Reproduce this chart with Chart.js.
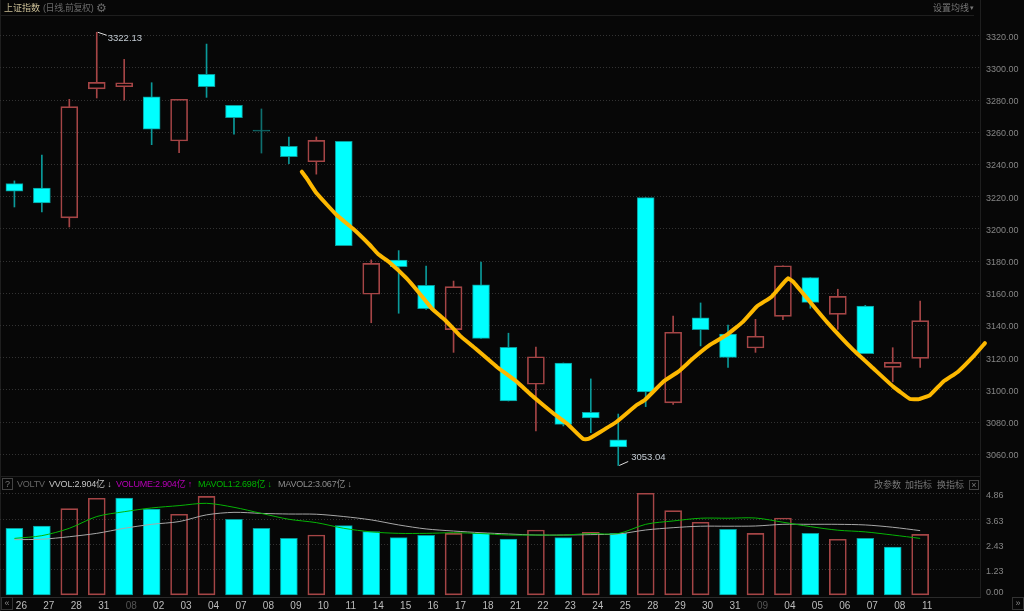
<!DOCTYPE html>
<html><head><meta charset="utf-8">
<script src="https://cdn.jsdelivr.net/npm/chart.js@4/dist/chart.umd.js"></script>
<style>
html,body{margin:0;padding:0;background:#070707;overflow:hidden;width:1024px;height:611px}
canvas{position:absolute;left:0;display:block}
.t{position:absolute;white-space:nowrap;font-family:"Liberation Sans","Noto Sans CJK SC",sans-serif;font-size:9px;line-height:12px}
.m{letter-spacing:-0.2px}
.l{position:absolute;background:#1e1e1e}
</style></head><body>
<div class="l" style="left:0;top:15px;width:974px;height:1px"></div>
<div class="l" style="left:0;top:476px;width:980px;height:1px"></div>
<div class="l" style="left:980px;top:0;width:1px;height:597px"></div>
<div class="l" style="left:0;top:0;width:1px;height:611px"></div>
<canvas id="priceChart" width="1024" height="476" style="top:0"></canvas>
<canvas id="volChart" width="1024" height="135" style="top:476px"></canvas>
<div class="t" style="left:4px;top:2px;color:#c9bd95">上证指数</div>
<div class="t" style="left:43px;top:2px;letter-spacing:-0.4px;color:#6a6a6a">(日线,前复权)</div>
<div class="t" style="left:96px;top:2px;font-size:12px;color:#6a6a6a;font-family:'DejaVu Sans'">⚙</div>
<div class="t" style="left:933px;top:2px;color:#777">设置均线</div>
<div class="t" style="left:970px;top:2px;font-size:7px;color:#777">▾</div>
<div class="t" style="left:2px;top:478px;width:9px;height:10px;border:1px solid #444;text-align:center;line-height:10px;color:#777">?</div>
<div class="t m" style="left:17px;top:478px;color:#666">VOLTV</div>
<div class="t m" style="left:49px;top:478px;color:#c4c4c4">VVOL:2.904亿 ↓</div>
<div class="t m" style="left:116px;top:478px;color:#b800b8">VOLUME:2.904亿 ↑</div>
<div class="t m" style="left:198px;top:478px;color:#00b400">MAVOL1:2.698亿 ↓</div>
<div class="t m" style="left:278px;top:478px;color:#8e8e8e">MAVOL2:3.067亿 ↓</div>
<div class="t" style="left:874px;top:479px;color:#777">改参数</div>
<div class="t" style="left:905px;top:479px;color:#777">加指标</div>
<div class="t" style="left:937px;top:479px;color:#777">换指标</div>
<div class="t" style="left:969px;top:480px;width:8px;height:8px;border:1px solid #444;text-align:center;line-height:8px;color:#777">×</div>
<div class="t" style="left:986px;top:586px;font-family:'Liberation Sans';color:#858585">0.00</div>
<div class="t" style="left:1px;top:597px;width:10px;height:11px;border:1px solid #333;text-align:center;line-height:10px;color:#888">«</div>
<div class="t" style="left:1012px;top:597px;width:10px;height:11px;border:1px solid #333;text-align:center;line-height:10px;color:#888">»</div>
<script>
const categories = ['26','27','28','31','08','02','03','04','07','08','09','10','11','14','15','16','17','18','21','22','23','24','25','28','29','30','31','09','04','05','06','07','08','11'];
const dimmedIndexes = [4,27];
const opens  = [3228.1,3225.4,3206.8,3287.0,3288.3,3282.1,3254.6,3296.0,3276.8,3261.3,3251.3,3241.7,3254.4,3159.4,3180.7,3165.0,3137.4,3165.3,3126.4,3103.5,3116.7,3086.0,3068.9,3219.4,3091.9,3144.7,3134.7,3126.0,3145.7,3169.7,3146.9,3152.1,3114.0,3119.6];
const closes = [3223.4,3216.1,3275.9,3291.0,3290.8,3262.0,3280.5,3288.3,3269.1,3260.7,3244.8,3255.0,3189.6,3178.6,3176.5,3150.4,3164.1,3132.0,3093.1,3120.6,3078.6,3082.6,3064.5,3098.7,3135.8,3137.4,3120.2,3133.3,3177.1,3154.4,3158.1,3122.5,3117.1,3143.0];
const highs  = [3229.8,3245.9,3280.5,3322.13,3305.3,3290.8,3280.5,3314.8,3276.8,3274.5,3257.1,3257.1,3254.4,3180.7,3186.5,3176.9,3167.6,3179.4,3135.2,3126.6,3116.7,3106.8,3085.0,3219.4,3145.9,3154.0,3140.3,3143.8,3177.1,3169.7,3162.5,3152.5,3126.2,3155.2];
const lows   = [3213.6,3210.5,3201.2,3281.3,3280.0,3252.3,3247.3,3281.7,3258.9,3247.1,3240.5,3234.0,3189.6,3141.7,3147.6,3150.0,3123.3,3132.0,3093.1,3074.5,3077.6,3073.4,3053.04,3089.6,3091.0,3127.3,3114.0,3123.3,3143.6,3150.7,3137.6,3122.5,3105.0,3114.0];
const volumes = [3.19,3.30,4.13,4.62,4.63,4.10,3.86,4.71,3.62,3.19,2.71,2.87,3.32,3.03,2.75,2.86,2.95,2.95,2.68,3.11,2.75,3.00,2.95,4.86,4.03,3.48,3.14,2.95,3.68,2.95,2.67,2.71,2.30,2.90];
const volumeHollow = [0,0,1,1,0,0,1,1,0,0,0,1,0,0,0,0,1,0,0,1,0,1,0,1,1,1,0,1,1,0,1,0,0,1];
const mavol1 = [2.71,2.84,3.19,3.75,3.98,4.16,4.27,4.38,4.19,3.90,3.62,3.46,3.19,3.02,2.95,2.95,2.98,2.94,2.87,2.87,2.87,2.94,2.94,3.38,3.54,3.67,3.67,3.68,3.48,3.27,3.10,3.02,2.87,2.71];
const mavol2 = [2.65,2.67,2.79,2.95,3.19,3.38,3.51,3.83,3.95,3.90,3.87,3.86,3.75,3.59,3.35,3.16,3.06,2.98,2.92,2.87,2.87,2.89,2.92,3.11,3.22,3.29,3.29,3.30,3.38,3.38,3.38,3.35,3.24,3.08];
const sketchX = [10.47,10.65,11.01,11.74,12.35,12.95,13.25,13.68,14.29,14.71,15.20,15.69,16.23,16.72,17.57,18.30,18.90,19.63,20.12,20.72,20.91,21.33,21.94,22.67,22.97,23.64,24.19,24.73,25.34,25.95,26.55,27.04,27.59,28.01,28.19,28.37,28.98,29.59,30.56,31.29,32.02,32.63,32.93,33.36,33.84,34.38,34.93,35.36];
const sketchY = [3235.5,3231.4,3222.1,3208.6,3199.9,3190.0,3184.4,3179.0,3169.3,3161.0,3150.7,3143.4,3133.7,3126.8,3114.4,3105.1,3095.8,3085.5,3079.3,3069.5,3069.5,3073.7,3080.2,3090.6,3093.7,3105.1,3111.3,3119.6,3127.9,3134.1,3142.4,3151.7,3157.9,3166.2,3169.3,3167.2,3154.8,3142.4,3124.8,3113.4,3102.0,3094.3,3094.2,3096.8,3105.1,3111.3,3120.6,3129.0];
const priceTicks = [3060,3080,3100,3120,3140,3160,3180,3200,3220,3240,3260,3280,3300,3320];
const volTicks = [0,1.23,2.43,3.63,4.86];
const priceLabels = [{index:3,value:3322.13,text:'3322.13',dx:11,dy:6,lx:10,ly:3},{index:22,value:3053.04,text:'3053.04',dx:13,dy:-8,lx:10,ly:-4}];

const RED='#a54546', CYAN='#00ffff', TEAL='#0a9a9a', DARKTEAL='#0f6f6f', GRID='#333333';
const xMin=-0.525, xMax=35.18;
const isDoji=i=>Math.abs(opens[i]-closes[i])<1;
const isUp=i=>closes[i]>opens[i];
const edge=i=>isDoji(i)?DARKTEAL:(isUp(i)?RED:TEAL);
const fill=i=>isDoji(i)?DARKTEAL:(isUp(i)?'rgba(0,0,0,0)':CYAN);
const idx=categories.map((_,i)=>i);

const rightAxis=(ticks,min,max,gridColor,labelShift)=>({
  position:'right',min,max,
  afterBuildTicks:s=>{s.ticks=ticks.map(v=>({value:v}));},
  afterFit:s=>{s.width=44;s.paddingTop=0;s.paddingBottom=0;},
  border:{display:false,dash:[1,2]},
  grid:{drawTicks:false,color:gridColor||GRID,lineWidth:1},
  ticks:{color:'#858585',padding:6,labelOffset:labelShift,font:{family:'Liberation Sans',size:9},callback:v=>v===0?'':Number(v).toFixed(2),maxRotation:0,autoSkip:false}
});

const annotate={id:'annotate',afterDatasetsDraw(c){
  const g=c.ctx;g.save();
  g.font='9.5px "Liberation Sans"';g.textBaseline='middle';
  priceLabels.forEach(a=>{
    const x=c.scales.x.getPixelForValue(a.index),y=c.scales.y.getPixelForValue(a.value);
    g.strokeStyle='#dddddd';g.lineWidth=1;g.beginPath();g.moveTo(x+1,y);g.lineTo(x+a.lx,y+a.ly);g.stroke();
    g.fillStyle='#c4ccd4';g.fillText(a.text,x+a.dx,y+a.dy);
  });
  g.restore();
}};

new Chart(document.getElementById('priceChart'),{
  type:'bar',
  data:{datasets:[
    {type:'line',order:0,data:sketchX.map((x,i)=>({x,y:sketchY[i]})),borderColor:'#fdb800',borderWidth:4,pointRadius:0,tension:0.1,borderCapStyle:'round',borderJoinStyle:'round',clip:false},
    {order:1,grouped:false,barThickness:17,borderWidth:1,data:idx.map(i=>({x:i,y:[opens[i],closes[i]]})),backgroundColor:idx.map(fill),borderColor:idx.map(edge),borderSkipped:false},
    {order:2,grouped:false,barThickness:1,borderWidth:0,data:idx.map(i=>({x:i,y:[Math.max(opens[i],closes[i]),highs[i]]})),backgroundColor:idx.map(edge)},
    {order:2,grouped:false,barThickness:1,borderWidth:0,data:idx.map(i=>({x:i,y:[lows[i],Math.min(opens[i],closes[i])]})),backgroundColor:idx.map(edge)}
  ]},
  options:{responsive:false,maintainAspectRatio:false,animation:false,layout:{autoPadding:false,padding:{top:16,left:0,right:0,bottom:0}},
    plugins:{legend:{display:false},tooltip:{enabled:false}},
    scales:{
      x:{type:'linear',display:false,min:xMin,max:xMax,offset:false},
      y:rightAxis(priceTicks,3046.5,3332.24,GRID,1.5)
    }
  },
  plugins:[annotate]
});
new Chart(document.getElementById('volChart'),{
  type:'bar',
  data:{datasets:[
    {type:'line',order:0,data:idx.map(i=>({x:i,y:mavol1[i]})),borderColor:'#06b406',borderWidth:1,pointRadius:0,tension:0.3},
    {type:'line',order:0,data:idx.map(i=>({x:i,y:mavol2[i]})),borderColor:'#a8a8a8',borderWidth:1,pointRadius:0,tension:0.3},
    {order:1,grouped:false,barThickness:17,borderWidth:1,data:idx.map(i=>({x:i,y:volumes[i]})),backgroundColor:volumeHollow.map(h=>h?'rgba(0,0,0,0)':CYAN),borderColor:volumeHollow.map(h=>h?RED:TEAL),borderSkipped:false}
  ]},
  options:{responsive:false,maintainAspectRatio:false,animation:false,layout:{autoPadding:false,padding:0},
    plugins:{legend:{display:false},tooltip:{enabled:false}},
    scales:{
      x:{type:'linear',min:xMin,max:xMax,offset:false,
        afterBuildTicks:s=>{s.ticks=idx.map(v=>({value:v}));},
        afterFit:s=>{s.height=14;},
        border:{display:true,color:'#2a2a2a'},
        grid:{display:false,drawTicks:false},
        ticks:{autoSkip:false,maxRotation:0,padding:3,labelOffset:7,font:{family:'Liberation Sans',size:10},
          color:c=>dimmedIndexes.includes(c.tick&&c.tick.value)?'#555':'#bdbdbd',
          callback:v=>categories[v]}
      },
      y:rightAxis(volTicks,-0.08,5.68,c=>c.tick&&c.tick.value===0?'rgba(0,0,0,0)':GRID,2)
    }
  }
});
</script>
</body></html>
